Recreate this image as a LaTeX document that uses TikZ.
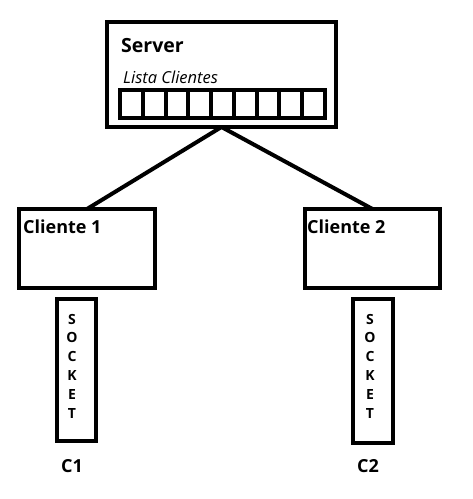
\documentclass[tikz,border=0pt]{standalone}
\usepackage{fontspec}
\setmainfont{Open Sans}
\usetikzlibrary{positioning,calc}

\tikzset{
  box/.style={draw, line width=4.5pt, inner sep=0pt, outer sep=0pt},
  cell/.style={draw, line width=4pt, inner sep=0pt, minimum width=22.78pt, minimum height=28pt},
  lbl/.style={anchor=base west, inner sep=0pt, font=\fontsize{18}{22}\selectfont\bfseries},
  link/.style={line width=4pt}
}

\begin{document}
\begin{tikzpicture}[x=1pt, y=-1pt]
    \useasboundingbox (0,0) rectangle (473,499);
    % ---- server with the client list
    \node[box, minimum width=229pt, minimum height=105pt] (srv) at (221.5,74.5) {};
    \node[lbl, font=\fontsize{19.5}{22}\selectfont\bfseries] (srvname) at (121,52) {Server};
    \node[lbl, font=\fontsize{16.5}{18}\selectfont\itshape] (lista) at (123,83) {Lista Clientes};
    \foreach \i in {1,...,9}
      { \node[cell] (c\i) at (120+22.78*\i-11.39,104) {}; }
    % ---- clients
    \node[box, minimum width=136pt, minimum height=79pt] (cl1) at (87,248.5) {};
    \node[box, minimum width=135pt, minimum height=79pt] (cl2) at (372.5,248.5) {};
    \node[lbl] (cl1name) at (23,233) {Cliente 1};
    \node[lbl] (cl2name) at (307,233) {Cliente 2};
    \foreach \u/\v in {srv/cl1,srv/cl2}
      { \draw[link] (\u.south) -- (\v.north); }
    % ---- sockets
    \node[box, minimum width=39pt, minimum height=142pt] (sk1) at (76.5,370) {};
    \node[box, minimum width=40pt, minimum height=144pt] (sk2) at (373,371) {};
    \foreach \s/\x in {1/72,2/370}
      { \node[align=center, inner sep=0pt, font=\fontsize{14}{18.8}\selectfont\bfseries]
          (sktext\s) at (\x,366) {S\\O\\C\\K\\E\\T}; }
    \node[font=\fontsize{18}{20}\selectfont\bfseries] (c1) at (72,466) {C1};
    \node[font=\fontsize{18}{20}\selectfont\bfseries] (c2) at (368,466) {C2};
  \end{tikzpicture}
\end{document}
